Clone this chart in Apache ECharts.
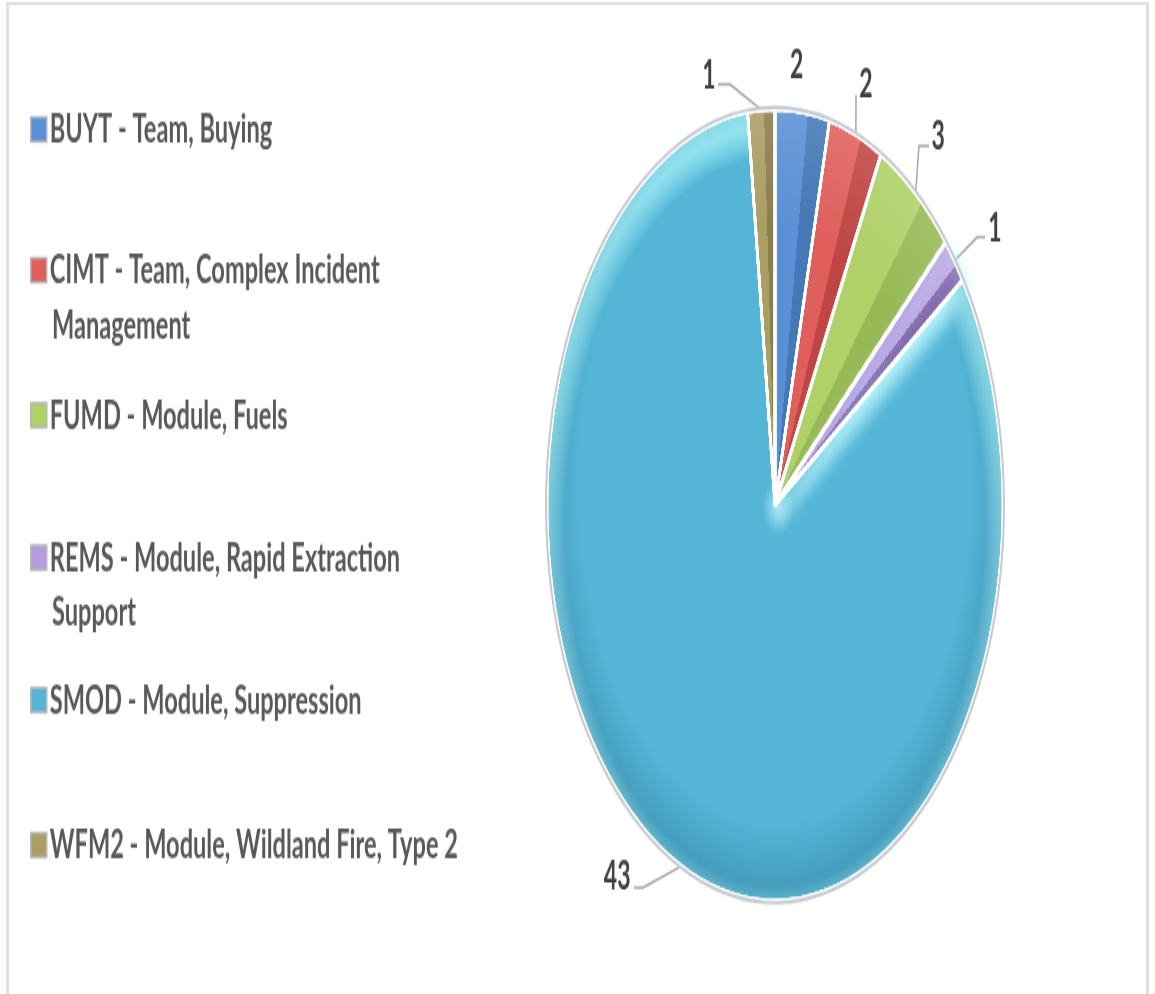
<!DOCTYPE html>
<html>
<head>
<meta charset="utf-8">
<style>
  html, body { margin: 0; padding: 0; background: #fff; overflow: hidden; }
  #frame { position: absolute; left: 6px; top: 2px; width: 1137px; height: 1000px; border: 3px solid #e0e0e0; border-bottom: 0; }
  /* the source picture is stretched vertically, so the whole chart is too */
  #chart { position: absolute; left: 0; top: 0; width: 1155px; height: 572px; transform: scaleY(1.737); transform-origin: 0 0; }
</style>
</head>
<body>
<div id="frame"></div>
<div id="chart"></div>
<script src="https://cdn.jsdelivr.net/npm/echarts@6/dist/echarts.min.js"></script>
<script>
const categories = [
  'BUYT - Team, Buying',
  'CIMT - Team, Complex Incident Management',
  'FUMD - Module, Fuels',
  'REMS - Module, Rapid Extraction Support',
  'SMOD - Module, Suppression',
  'WFM2 - Module, Wildland Fire, Type 2'
]
const legendFirstLine = [
  'BUYT - Team, Buying',
  'CIMT - Team, Complex Incident',
  'FUMD - Module, Fuels',
  'REMS - Module, Rapid Extraction',
  'SMOD - Module, Suppression',
  'WFM2 - Module, Wildland Fire, Type 2'
]
const legendSecondLine = [
  { text: 'Management', top: 175 },
  { text: 'Support', top: 340.5 }
]
const values = [2, 2, 3, 1, 43, 1]
const lightColors = ['#5a90d6', '#e05f5c', '#b0d068', '#b79bdf', '#54b5d6', '#ab9e64']
const darkColors = ['#4578b6', '#bf4644', '#97b955', '#7d5ea6', '#54b5d6', '#8b7e4c']
const legendTops = [57.5, 138.5, 222, 304, 386, 469.5]
const labelShift = [[-31, -15], [-39, -29], [-5, -24], [12, -11], [-29, -4.6], [-28, -7.5]]
// label line elbow and end per slice, in chart px. BUYT has no line
const lineElbow = [null, [856, 54.7], [919, 84], [977, 136.5], [643, 511], [730, 48.5]]
const lineEnd = [null, [856, 54.7], [929, 84], [985, 136.5], [634, 511], [718, 48.5]]

const FONT = 'Lato, sans-serif'
const REMS = 3
const SMOD = 4
const CENTER = [775, 290.7]
const RADIUS = 228
const total = values.reduce((a, b) => a + b, 0)

function sliceColor (i) {
  if (i === SMOD) {
    return lightColors[i]
  }
  // bevel: split the wedge a bit right of its middle, lit on the left, shaded on the right
  const before = values.slice(0, i).reduce((a, b) => a + b, 0)
  const mid = (before + values[i] * 0.6) / total * Math.PI * 2
  const nx = Math.cos(mid) * 60
  const ny = Math.sin(mid) * 60
  return {
    type: 'linear', global: true,
    x: CENTER[0] - nx, y: CENTER[1] - ny, x2: CENTER[0] + nx, y2: CENTER[1] + ny,
    colorStops: [
      { offset: 0, color: lightColors[i] },
      { offset: 0.5, color: lightColors[i] },
      { offset: 0.5, color: darkColors[i] },
      { offset: 1, color: darkColors[i] }
    ]
  }
}

function overlay (fillFor) {
  return {
    type: 'pie',
    silent: true,
    animation: false,
    center: CENTER,
    radius: RADIUS,
    startAngle: 90,
    label: { show: false },
    labelLine: { show: false },
    itemStyle: { borderColor: '#fff', borderWidth: 2.5 },
    data: categories.map((name, i) => ({ name, value: values[i], itemStyle: { color: fillFor(i) } }))
  }
}

const chart = echarts.init(document.getElementById('chart'))
chart.setOption({
  animation: false,
  title: legendSecondLine.map(item => ({
    text: item.text,
    left: 52,
    top: item.top,
    padding: 0,
    textStyle: { fontFamily: FONT, fontSize: 23.6, fontWeight: 'bold', color: '#595959' }
  })),
  legend: categories.map((name, i) => ({
    show: true,
    data: [name],
    left: 25,
    top: legendTops[i],
    orient: 'vertical',
    icon: 'rect',
    itemWidth: 16,
    itemHeight: 14,
    selectedMode: false,
    itemStyle: { color: lightColors[i], borderColor: '#b5b8bc', borderWidth: 1.5 },
    formatter: () => legendFirstLine[i],
    textStyle: { fontFamily: FONT, fontSize: 23.6, fontWeight: 'bold', color: '#595959', padding: [0, 0, 0, -2] }
  })),
  series: [
    {
      type: 'pie',
      name: 'Count',
      center: CENTER,
      radius: RADIUS,
      startAngle: 90,
      itemStyle: { borderColor: '#fff', borderWidth: 2.5 },
      label: { show: true, position: 'outside', formatter: '{c}', fontFamily: FONT, fontSize: 23, fontWeight: 'bold', color: '#404040' },
      labelLine: { show: true, length: 12, length2: 12, lineStyle: { color: '#a6a6a6', width: 1.5 } },
      labelLayout: params => {
        const i = params.dataIndex
        const s = labelShift[i]
        const layout = { dx: s[0], dy: s[1] }
        const start = params.labelLinePoints && params.labelLinePoints[0]
        if (start && lineEnd[i]) {
          layout.labelLinePoints = [start, lineElbow[i], lineEnd[i]]
        }
        return layout
      },
      data: categories.map((name, i) => ({
        name,
        value: values[i],
        itemStyle: { color: sliceColor(i) },
        labelLine: { show: i !== 0 }
      }))
    },
    // the purple slice again, its glow makes the bright strip on the big slice
    {
      type: 'pie',
      silent: true,
      animation: false,
      center: CENTER,
      radius: RADIUS,
      startAngle: 90,
      label: { show: false },
      labelLine: { show: false },
      data: categories.map((name, i) => ({
        name,
        value: values[i],
        itemStyle: i === REMS
          ? { color: sliceColor(i), borderColor: '#fff', borderWidth: 2.5, shadowBlur: 12, shadowColor: '#c0f9ff', shadowOffsetX: 5, shadowOffsetY: 6 }
          : { color: 'rgba(0,0,0,0)', borderWidth: 0 }
      }))
    },
    // light upper rim, lighter ends on the small wedges
    overlay(i => ({
      type: 'radial', x: CENTER[0], y: CENTER[1] + (i === SMOD ? 10 : 0), r: RADIUS + (i === SMOD ? 0 : 2), global: true,
      colorStops: i === SMOD
        ? [{ offset: 0.92, color: 'rgba(170,248,255,0)' }, { offset: 1, color: 'rgba(170,248,255,0.85)' }]
        : [{ offset: 0.7, color: 'rgba(255,255,255,0)' }, { offset: 1, color: 'rgba(255,255,255,0.12)' }]
    })),
    // dark lower rim, only on the big slice
    overlay(i => (i === SMOD ? {
      type: 'radial', x: CENTER[0], y: CENTER[1] - 12, r: RADIUS, global: true,
      colorStops: [
        { offset: 0.86, color: 'rgba(20,80,110,0)' },
        { offset: 1, color: 'rgba(20,80,110,0.22)' }
      ]
    } : 'rgba(0,0,0,0)')),
    // glow just under the middle of the pie
    overlay(i => (i === SMOD ? {
      type: 'radial', x: 778, y: 292, r: 16, global: true,
      colorStops: [
        { offset: 0, color: 'rgba(205,250,255,0.7)' },
        { offset: 1, color: 'rgba(205,250,255,0)' }
      ]
    } : 'rgba(0,0,0,0)')),
    // thin gray outline round the pie
    {
      type: 'pie',
      silent: true,
      animation: false,
      center: CENTER,
      radius: [RADIUS, RADIUS + 2],
      startAngle: 90,
      label: { show: false },
      labelLine: { show: false },
      itemStyle: { color: '#c5cbd1' },
      data: categories.map((name, i) => ({ name, value: values[i] }))
    }
  ]
})
</script>
</body>
</html>
